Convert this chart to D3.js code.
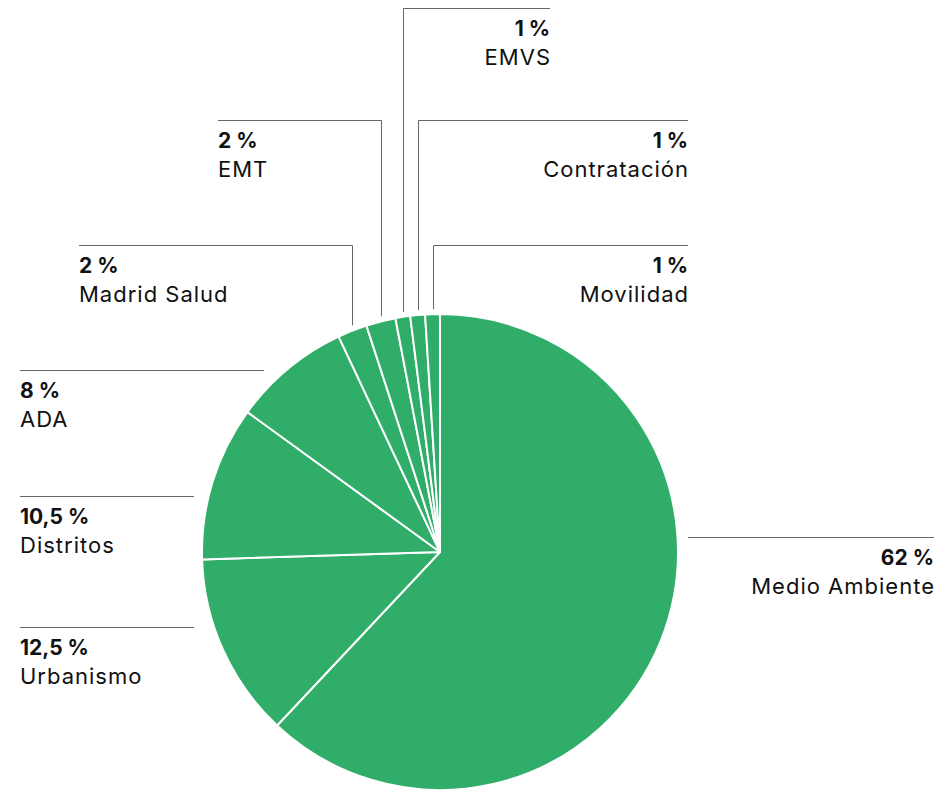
<!DOCTYPE html>
<html>
<head>
<meta charset="utf-8">
<script src="https://cdn.jsdelivr.net/npm/d3@7"></script>
<style>
  html, body { margin: 0; padding: 0; background: #fff; }
  svg { display: block; font-family: Inter, "Noto Sans", sans-serif; }
</style>
</head>
<body>
<svg id="chart" width="937" height="791"></svg>
<script>
// Budget share by area (per cent), clockwise from 12 o'clock
const areas = ["Medio Ambiente", "Urbanismo", "Distritos", "ADA", "Madrid Salud", "EMT", "EMVS", "Contratación", "Movilidad"];
const shares = [62, 12.5, 10.5, 8, 2, 2, 1, 1, 1];
const shareLabels = ["62 %", "12,5 %", "10,5 %", "8 %", "2 %", "2 %", "1 %", "1 %", "1 %"];

// Label placement: row of the rule line, text side and rule extent
const labelLayout = [
  { lineY: 537, anchor: "end",   textX: 934, ruleFrom: 688, vertical: false },
  { lineY: 627, anchor: "start", textX: 20,  ruleFrom: 194, vertical: false },
  { lineY: 496, anchor: "start", textX: 20,  ruleFrom: 194, vertical: false },
  { lineY: 370, anchor: "start", textX: 20,  ruleFrom: 264, vertical: false },
  { lineY: 245, anchor: "start", textX: 79,  vertical: true },
  { lineY: 120, anchor: "start", textX: 218, vertical: true },
  { lineY: 8,   anchor: "end",   textX: 550, vertical: true },
  { lineY: 120, anchor: "end",   textX: 688, vertical: true },
  { lineY: 245, anchor: "end",   textX: 688, vertical: true }
];

const width = 937, height = 791;
const cx = 440, cy = 552, radius = 238;
const green = "#31ad6a";
const ruleColor = "#666";

const svg = d3.select("#chart");

const pie = d3.pie().sort(null).value(d => d.value);
const rows = areas.map((a, i) => ({ name: a, value: shares[i], label: shareLabels[i], layout: labelLayout[i] }));
const arcs = pie(rows);

const arc = d3.arc().innerRadius(0).outerRadius(radius);

const g = svg.append("g").attr("transform", `translate(${cx},${cy})`);
g.selectAll("path.slice")
  .data(arcs)
  .join("path")
  .attr("class", "slice")
  .attr("d", arc)
  .attr("fill", green)
  .attr("stroke", "#fff")
  .attr("stroke-width", 2)
  .attr("stroke-linejoin", "round");

// Leader rules
const gap = 5;
const rules = svg.append("g").attr("fill", "none").attr("stroke", ruleColor).attr("stroke-width", 1);
arcs.forEach(a => {
  const L = a.data.layout;
  if (L.vertical) {
    const mid = (a.startAngle + a.endAngle) / 2;
    const vx = cx + radius * Math.sin(mid);
    const dx = vx - cx;
    const r2 = radius + gap;
    const vy = cy - Math.sqrt(r2 * r2 - dx * dx);
    const px = Math.round(vx) + 0.5;
    const py = Math.round(L.lineY) + 0.5;
    rules.append("path").attr("d", `M${L.textX},${py}H${px}V${vy}`);
  } else {
    const py = Math.round(L.lineY) + 0.5;
    rules.append("path").attr("d", `M${L.textX},${py}H${L.ruleFrom}`);
  }
});

// Labels: bold share above the area name
const labels = svg.append("g").attr("fill", "#111");
arcs.forEach(a => {
  const L = a.data.layout;
  const shift = L.anchor === "end" ? 1 : 0;
  labels.append("text")
    .attr("x", L.textX).attr("y", L.lineY + 28)
    .attr("text-anchor", L.anchor)
    .attr("font-size", 21).attr("font-weight", 700)
    .text(a.data.label);
  labels.append("text")
    .attr("x", L.textX + shift).attr("y", L.lineY + 57)
    .attr("text-anchor", L.anchor)
    .attr("font-size", 22).attr("font-weight", 400)
    .attr("letter-spacing", 1)
    .text(a.data.name);
});
</script>
</body>
</html>
